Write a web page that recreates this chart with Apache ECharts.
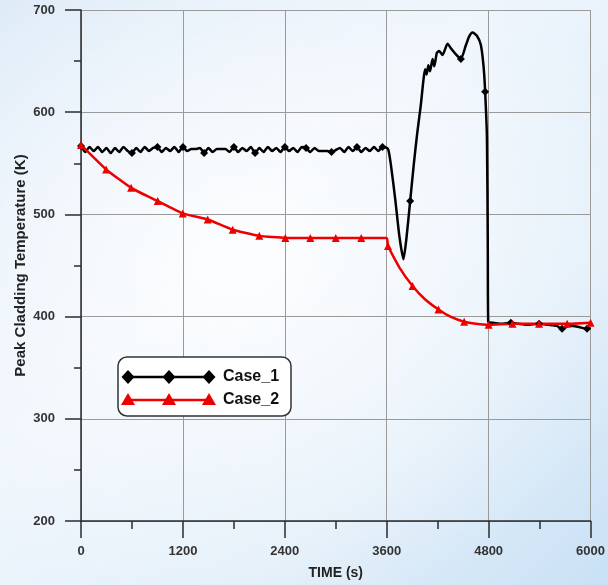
<!DOCTYPE html>
<html>
<head>
<meta charset="utf-8">
<script src="https://cdn.jsdelivr.net/npm/echarts@6/dist/echarts.min.js"></script>
<style>
  html, body { margin: 0; padding: 0; }
  #chart {
    width: 608px; height: 585px;
    background:
      radial-gradient(ellipse 70% 60% at 40% 45%, rgba(255,255,255,0.85) 0%, rgba(255,255,255,0) 100%),
      linear-gradient(135deg, #dceaf7 0%, #eef5fc 40%, #e3eff9 70%, #c9e1f5 100%);
  }
</style>
</head>
<body>
<div id="chart"></div>
<script>
// Axis ranges and tick values
const timeTicks = [0, 1200, 2400, 3600, 4800, 6000];
const tempTicks = [200, 300, 400, 500, 600, 700];

// Case_1: [time (s), peak cladding temperature (K)]
const case1Points = [
  [0,567],[50,561],[100,566],[150,562],[200,566],[250,561],[300,565],[350,560],
  [400,565],[450,561],[500,566],[550,562],[600,560],[650,565],[700,561],[750,566],
  [800,562],[850,565],[900,566],[950,561],[1000,565],[1050,562],[1100,566],[1150,561],
  [1200,566],[1250,562],[1300,564],[1350,564],[1400,565],[1450,560],[1500,565],[1550,561],
  [1600,564],[1650,564],[1700,564],[1750,561],[1800,566],[1850,561],[1900,565],[1950,562],
  [2000,566],[2050,560],[2100,565],[2150,561],[2200,566],[2250,562],[2300,565],[2350,561],
  [2400,566],[2450,562],[2500,565],[2550,561],[2600,566],[2650,565],[2700,561],[2750,565],
  [2800,562],[2850,562],[2900,562],[2950,561],[3000,563],[3050,565],[3100,561],[3150,566],
  [3200,562],[3250,566],[3300,561],[3350,565],[3400,562],[3450,566],[3500,562],[3550,566],
  [3600,565],[3620,563],[3650,548],[3700,515],[3750,478],[3797,456],[3830,475],[3876,513],
  [3920,550],[3960,580],[4000,606],[4053,642],[4070,637],[4090,646],[4110,640],[4140,652],
  [4160,645],[4190,658],[4218,660],[4257,656],[4316,667],[4360,662],[4420,656],[4473,652],
  [4530,665],[4570,674],[4610,678],[4660,675],[4708,666],[4740,645],[4759,620],[4780,575],
  [4790,470],[4795,395],[4850,394],[4950,393],[5061,394],[5150,393],[5250,392],[5394,393],
  [5500,392],[5600,391],[5665,388],[5750,391],[5850,390],[5959,388],[6000,389]
];
const case1MarkerTimes = [0, 600, 900, 1200, 1450, 1800, 2050, 2400, 2650, 2950, 3250, 3550,
  3876, 4473, 4759, 5061, 5394, 5665, 5959];

// Case_2: [time (s), peak cladding temperature (K)]
const case2Points = [
  [0,568],[296,544],[590,526],[904,513],[1198,501],[1492,495],[1786,485],[2100,479],
  [2406,477],[2700,477],[3000,477],[3300,477],[3600,477],[3615,469],[3750,448],[3904,430],
  [4050,417],[4209,407],[4350,400],[4512,395],[4650,393],[4800,392],[5080,393],[5394,393],
  [5724,393],[6000,394]
];
const case2MarkerTimes = [0, 296, 590, 904, 1198, 1492, 1786, 2100, 2406, 2700, 3000, 3300,
  3615, 3904, 4209, 4512, 4800, 5080, 5394, 5724, 6000];

const seriesNames = ['Case_1', 'Case_2'];

function withMarkers(points, markerTimes, symbol) {
  return points.map(p => ({
    value: p,
    symbol: markerTimes.includes(p[0]) ? symbol : 'none'
  }));
}

const FONT = '"Liberation Sans", Arial, sans-serif';
const AXIS_DARK = '#2b2b2b';

const chart = echarts.init(document.getElementById('chart'), null, { renderer: 'canvas' });

// Legend box drawn with graphic primitives (line with three markers per row)
const legendX = 118, legendY = 357;
function legendRow(y, color, shape) {
  const xs = [128, 169, 209];
  const items = [{
    type: 'line', shape: { x1: xs[0], y1: y, x2: xs[2], y2: y },
    style: { stroke: color, lineWidth: 2.5 }
  }];
  xs.forEach(x => {
    const pts = shape === 'diamond'
      ? [[x, y - 7], [x + 6.5, y], [x, y + 7], [x - 6.5, y]]
      : [[x, y - 7], [x + 7, y + 5], [x - 7, y + 5]];
    items.push({ type: 'polygon', shape: { points: pts }, style: { fill: color } });
  });
  return items;
}

chart.setOption({
  animation: false,
  backgroundColor: 'transparent',
  grid: { left: 81, right: 17, top: 10, bottom: 64, containLabel: false },
  xAxis: {
    type: 'value',
    min: timeTicks[0], max: timeTicks[timeTicks.length - 1], interval: 1200,
    name: 'TIME (s)', nameLocation: 'middle', nameGap: 45, nameMoveOverlap: false,
    nameTextStyle: { fontFamily: FONT, fontWeight: 'bold', fontSize: 14, color: '#222' },
    axisLine: { show: true, onZero: false, lineStyle: { color: AXIS_DARK, width: 1.5 } },
    axisTick: { show: true, inside: false, length: 17, lineStyle: { color: AXIS_DARK, width: 1.5 } },
    minorTick: { show: true, splitNumber: 2, length: 8, lineStyle: { color: AXIS_DARK, width: 1.5 } },
    axisLabel: { margin: 24, fontFamily: FONT, fontWeight: 'bold', fontSize: 13, color: '#333',
      showMinLabel: true, showMaxLabel: true, formatter: v => String(v) },
    splitLine: { show: true, lineStyle: { color: '#9a9a9a', width: 1 } }
  },
  yAxis: {
    type: 'value',
    min: tempTicks[0], max: tempTicks[tempTicks.length - 1], interval: 100,
    name: 'Peak Cladding Temperature (K)', nameLocation: 'middle', nameGap: 53, nameRotate: 90,
    nameMoveOverlap: false,
    nameTextStyle: { fontFamily: FONT, fontWeight: 'bold', fontSize: 15, color: '#222' },
    axisLine: { show: true, lineStyle: { color: AXIS_DARK, width: 1.5 } },
    axisTick: { show: true, inside: false, length: 16, lineStyle: { color: AXIS_DARK, width: 1.5 } },
    minorTick: { show: true, splitNumber: 2, length: 7, lineStyle: { color: AXIS_DARK, width: 1.5 } },
    axisLabel: { margin: 26, fontFamily: FONT, fontWeight: 'bold', fontSize: 13, color: '#333',
      formatter: v => String(v) },
    splitLine: { show: true, lineStyle: { color: '#9a9a9a', width: 1 } }
  },
  series: [
    {
      name: seriesNames[0], type: 'line',
      data: withMarkers(case1Points, case1MarkerTimes, 'diamond'),
      showAllSymbol: true, symbolSize: 8,
      lineStyle: { color: '#000', width: 2.5 },
      itemStyle: { color: '#000' },
      smooth: 0.2
    },
    {
      name: seriesNames[1], type: 'line',
      data: withMarkers(case2Points, case2MarkerTimes, 'triangle'),
      showAllSymbol: true, symbolSize: 8,
      lineStyle: { color: '#ee0000', width: 2.5 },
      itemStyle: { color: '#ee0000' },
      smooth: 0.15
    }
  ],
  graphic: [
    {
      type: 'rect',
      shape: { x: legendX, y: legendY, width: 173, height: 59, r: 9 },
      style: { fill: '#ffffff', stroke: '#333', lineWidth: 1.5 },
      z: 10
    },
    ...legendRow(377, '#000', 'diamond').map(g => Object.assign(g, { z: 11 })),
    ...legendRow(400, '#ee0000', 'triangle').map(g => Object.assign(g, { z: 11 })),
    { type: 'text', x: 223, y: 377, z: 11,
      style: { text: seriesNames[0], font: 'bold 16px ' + FONT, fill: '#111', verticalAlign: 'middle' } },
    { type: 'text', x: 223, y: 400, z: 11,
      style: { text: seriesNames[1], font: 'bold 16px ' + FONT, fill: '#111', verticalAlign: 'middle' } }
  ]
});
</script>
</body>
</html>
